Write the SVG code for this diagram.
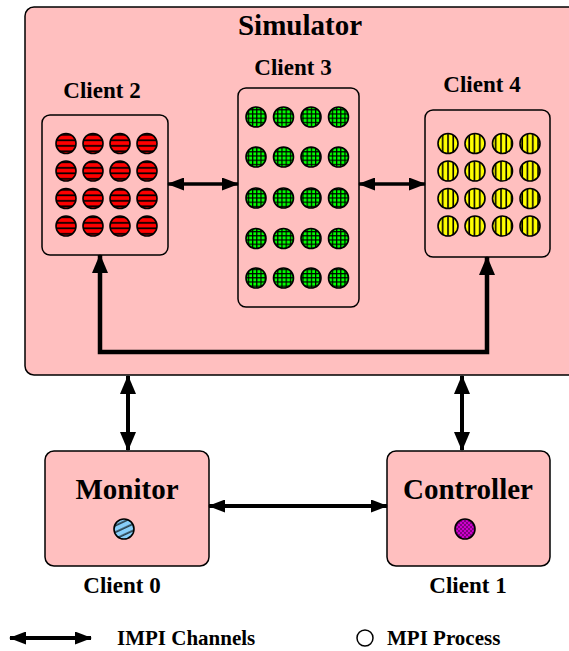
<svg xmlns="http://www.w3.org/2000/svg" width="569" height="651" viewBox="0 0 569 651">
  <style>
    .box { fill: #ffbfbf; stroke: #000; stroke-width: 1.5; }
    .lbl { font-family: "Liberation Serif", "Times New Roman", serif; font-weight: bold; fill: #000; text-anchor: middle; }
    .conn { fill: none; stroke: #000; }
    .proc { stroke: #000; stroke-width: 1.6; }
  </style>
  <defs>
    <!-- striped / hatched fills for the process circles -->
    <pattern id="hstripe" patternUnits="userSpaceOnUse" width="6" height="5.5">
      <rect width="6" height="5.5" fill="#ff0000"/>
      <rect y="2" width="6" height="1.7" fill="#000"/>
    </pattern>
    <pattern id="grid" patternUnits="userSpaceOnUse" width="4.2" height="4.2">
      <rect width="4.2" height="4.2" fill="#00ff00"/>
      <rect x="0" width="1.2" height="4.2" fill="#000"/>
      <rect y="0" width="4.2" height="1.2" fill="#000"/>
    </pattern>
    <pattern id="vstripe" patternUnits="userSpaceOnUse" width="5.3" height="6">
      <rect width="5.3" height="6" fill="#ffff00"/>
      <rect x="2" width="1.6" height="6" fill="#000"/>
    </pattern>
    <pattern id="diag" patternUnits="userSpaceOnUse" width="6" height="6" patternTransform="rotate(-25)">
      <rect width="6" height="6" fill="#87cefa"/>
      <rect y="2.5" width="6" height="1.2" fill="#000"/>
    </pattern>
    <pattern id="check" patternUnits="userSpaceOnUse" width="4" height="4">
      <rect width="4" height="4" fill="#cc00cc"/>
      <rect width="2" height="2" fill="#800080"/>
      <rect x="2" y="2" width="2" height="2" fill="#800080"/>
    </pattern>
    <marker id="headL" viewBox="0 0 19 16" refX="18" refY="8" markerWidth="19" markerHeight="16" markerUnits="userSpaceOnUse" orient="auto-start-reverse">
      <path d="M0,0 L19,8 L0,16 z" fill="#000"/>
    </marker>
    <marker id="headS" viewBox="0 0 17 13" refX="16" refY="6.5" markerWidth="17" markerHeight="13" markerUnits="userSpaceOnUse" orient="auto-start-reverse">
      <path d="M0,0 L17,6.5 L0,13 z" fill="#000"/>
    </marker>
  </defs>

  <!-- Simulator container -->
  <g id="simulator">
    <rect class="box" x="25" y="7" width="570" height="368" rx="9"/>
    <text class="lbl" x="300" y="35" font-size="29">Simulator</text>
  </g>

  <!-- Client 2 : 4x4 red processes -->
  <g id="client2">
    <text class="lbl" x="102" y="98" font-size="23">Client 2</text>
    <rect class="box" x="42" y="115" width="126" height="140" rx="8"/>
    <g fill="url(#hstripe)" class="proc">
      <circle cx="66" cy="143.5" r="10"/><circle cx="93" cy="143.5" r="10"/><circle cx="120" cy="143.5" r="10"/><circle cx="147" cy="143.5" r="10"/>
      <circle cx="66" cy="171" r="10"/><circle cx="93" cy="171" r="10"/><circle cx="120" cy="171" r="10"/><circle cx="147" cy="171" r="10"/>
      <circle cx="66" cy="198.5" r="10"/><circle cx="93" cy="198.5" r="10"/><circle cx="120" cy="198.5" r="10"/><circle cx="147" cy="198.5" r="10"/>
      <circle cx="66" cy="226" r="10"/><circle cx="93" cy="226" r="10"/><circle cx="120" cy="226" r="10"/><circle cx="147" cy="226" r="10"/>
    </g>
  </g>

  <!-- Client 3 : 4x5 green processes -->
  <g id="client3">
    <text class="lbl" x="293" y="75" font-size="23">Client 3</text>
    <rect class="box" x="238" y="88" width="121" height="219" rx="8"/>
    <g fill="url(#grid)" class="proc">
      <circle cx="256" cy="117" r="10"/><circle cx="283.5" cy="117" r="10"/><circle cx="311" cy="117" r="10"/><circle cx="338.5" cy="117" r="10"/>
      <circle cx="256" cy="157" r="10"/><circle cx="283.5" cy="157" r="10"/><circle cx="311" cy="157" r="10"/><circle cx="338.5" cy="157" r="10"/>
      <circle cx="256" cy="198" r="10"/><circle cx="283.5" cy="198" r="10"/><circle cx="311" cy="198" r="10"/><circle cx="338.5" cy="198" r="10"/>
      <circle cx="256" cy="238.5" r="10"/><circle cx="283.5" cy="238.5" r="10"/><circle cx="311" cy="238.5" r="10"/><circle cx="338.5" cy="238.5" r="10"/>
      <circle cx="256" cy="278" r="10"/><circle cx="283.5" cy="278" r="10"/><circle cx="311" cy="278" r="10"/><circle cx="338.5" cy="278" r="10"/>
    </g>
  </g>

  <!-- Client 4 : 4x4 yellow processes -->
  <g id="client4">
    <text class="lbl" x="482" y="92" font-size="23">Client 4</text>
    <rect class="box" x="425" y="110" width="125" height="147" rx="8"/>
    <g fill="url(#vstripe)" class="proc">
      <circle cx="448" cy="143.5" r="10"/><circle cx="475" cy="143.5" r="10"/><circle cx="502.5" cy="143.5" r="10"/><circle cx="530" cy="143.5" r="10"/>
      <circle cx="448" cy="171" r="10"/><circle cx="475" cy="171" r="10"/><circle cx="502.5" cy="171" r="10"/><circle cx="530" cy="171" r="10"/>
      <circle cx="448" cy="198.5" r="10"/><circle cx="475" cy="198.5" r="10"/><circle cx="502.5" cy="198.5" r="10"/><circle cx="530" cy="198.5" r="10"/>
      <circle cx="448" cy="226" r="10"/><circle cx="475" cy="226" r="10"/><circle cx="502.5" cy="226" r="10"/><circle cx="530" cy="226" r="10"/>
    </g>
  </g>

  <!-- Monitor (Client 0) -->
  <g id="monitor">
    <rect class="box" x="45" y="451" width="164" height="115" rx="9"/>
    <text class="lbl" x="127" y="499" font-size="29">Monitor</text>
    <circle class="proc" cx="124" cy="529" r="10" fill="url(#diag)"/>
    <text class="lbl" x="122" y="593" font-size="23">Client 0</text>
  </g>

  <!-- Controller (Client 1) -->
  <g id="controller">
    <rect class="box" x="387" y="451" width="163" height="115" rx="9"/>
    <text class="lbl" x="468" y="499" font-size="29">Controller</text>
    <circle class="proc" cx="465" cy="529" r="10" fill="url(#check)"/>
    <text class="lbl" x="468" y="593" font-size="23">Client 1</text>
  </g>

  <!-- IMPI channels -->
  <g id="connectors">
    <line class="conn" x1="168" y1="184" x2="238" y2="184" stroke-width="3.5" marker-start="url(#headS)" marker-end="url(#headS)"/>
    <line class="conn" x1="359" y1="184" x2="425" y2="184" stroke-width="3.5" marker-start="url(#headS)" marker-end="url(#headS)"/>
    <path class="conn" d="M100,255 L100,352 L487,352 L487,257" stroke-width="4.5" stroke-linejoin="miter" marker-start="url(#headL)" marker-end="url(#headL)"/>
    <line class="conn" x1="128" y1="376" x2="128" y2="450" stroke-width="4" marker-start="url(#headL)" marker-end="url(#headL)"/>
    <line class="conn" x1="462" y1="376" x2="462" y2="450" stroke-width="4" marker-start="url(#headL)" marker-end="url(#headL)"/>
    <line class="conn" x1="209" y1="506" x2="387" y2="506" stroke-width="4" marker-start="url(#headS)" marker-end="url(#headS)"/>
  </g>

  <!-- Legend -->
  <g id="legend">
    <line class="conn" x1="10" y1="638" x2="91" y2="638" stroke-width="4" marker-start="url(#headS)" marker-end="url(#headS)"/>
    <text class="lbl" x="117" y="645" font-size="21" style="text-anchor:start">IMPI Channels</text>
    <circle cx="365" cy="638" r="8" fill="none" stroke="#000" stroke-width="1.5"/>
    <text class="lbl" x="387" y="645" font-size="21" style="text-anchor:start">MPI Process</text>
  </g>
</svg>
